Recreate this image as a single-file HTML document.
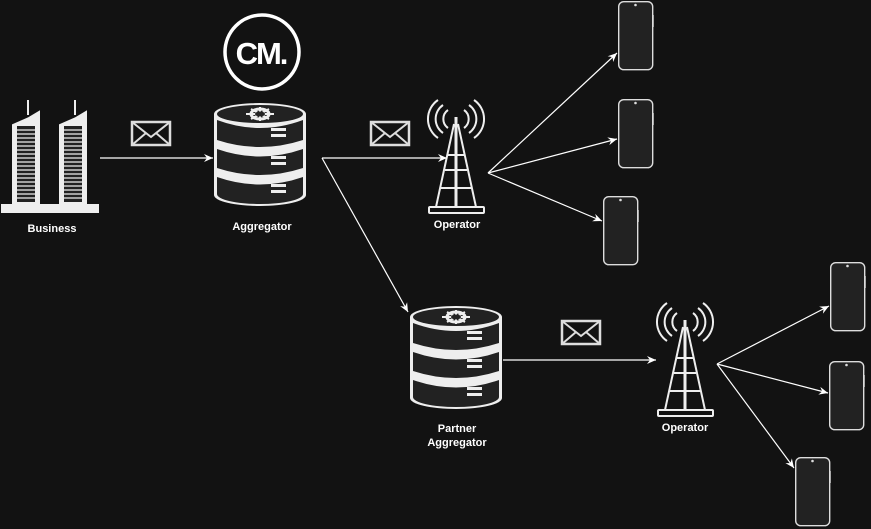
<!DOCTYPE html>
<html><head><meta charset="utf-8"><style>
html,body{margin:0;padding:0;background:#121212;}
svg{display:block}
text{font-family:"Liberation Sans",sans-serif;font-size:11px;fill:#fff;text-anchor:middle;font-weight:bold}
</style></head><body>
<svg width="871" height="529" viewBox="0 0 871 529" xmlns="http://www.w3.org/2000/svg">
<defs>
<marker id="ah" markerWidth="10" markerHeight="10" refX="9" refY="5" orient="auto" markerUnits="userSpaceOnUse">
<path d="M0,1 L9,5 L0,9 L3,5 Z" fill="#fff"/>
</marker>
<g id="db">
<path d="M1,12 A46,11 0 0 1 93,12 L93,93 A46,11 0 0 1 1,93 Z" fill="#eee"/>
<ellipse cx="47" cy="12" rx="43" ry="9" fill="#222"/>
<path d="M4,18 Q47,34 90,18 L90,38 Q47,52 4,38 Z" fill="#222"/>
<path d="M4,47 Q47,62 90,47 L90,66 Q47,80 4,66 Z" fill="#222"/>
<path d="M4,75 Q47,90 90,75 L90,92 A43,10 0 0 1 4,92 Z" fill="#222"/>
<g fill="#eee"><rect x="58" y="26" width="15" height="3"/><rect x="58" y="32" width="15" height="3"/>
<rect x="58" y="54" width="15" height="3"/><rect x="58" y="60" width="15" height="3"/>
<rect x="58" y="82" width="15" height="3"/><rect x="58" y="88" width="15" height="3"/></g>
<ellipse cx="47" cy="12" rx="9" ry="5" fill="none" stroke="#eee" stroke-width="3"/>
<g stroke="#eee" stroke-width="2"><line x1="33" y1="12" x2="61" y2="12"/><line x1="47" y1="5" x2="47" y2="19"/><line x1="38" y1="7" x2="56" y2="17"/><line x1="56" y1="7" x2="38" y2="17"/></g>
<ellipse cx="47" cy="12" rx="5" ry="2.5" fill="#222"/>
</g>
<g id="tower" fill="none" stroke="#eee" stroke-width="2">
<line x1="28" y1="17" x2="28" y2="107" stroke-width="3"/>
<line x1="26" y1="24" x2="8" y2="107"/><line x1="30" y1="24" x2="48" y2="107"/>
<line x1="20" y1="55" x2="36" y2="55"/><line x1="17" y1="70" x2="39" y2="70"/><line x1="13" y1="88" x2="43" y2="88"/>
<rect x="1" y="107" width="55" height="6" rx="1"/>
<path d="M20,10 A11,11 0 0 0 20,28"/><path d="M15,5 A17,17 0 0 0 15,33"/><path d="M10,0 A23,23 0 0 0 10,38"/>
<path d="M36,10 A11,11 0 0 1 36,28"/><path d="M41,5 A17,17 0 0 1 41,33"/><path d="M46,0 A23,23 0 0 1 46,38"/>
</g>
<g id="phone"><rect x="0.7" y="0.7" width="34" height="68" rx="5" fill="#222" stroke="#ddd" stroke-width="1.4"/><circle cx="17.5" cy="4" r="1.3" fill="#ddd"/><line x1="35.5" y1="14" x2="35.5" y2="26" stroke="#aaa"/></g>
<g id="env" fill="none" stroke="#ddd" stroke-width="2.5"><rect x="1" y="1" width="38" height="23"/><path d="M1,1 L20,16 L39,1 M1,24 L15,12 M39,24 L25,12" stroke-width="2"/></g>
<g id="bld" fill="none" stroke="#eee" stroke-width="2">
<path d="M2,25 L2,105 L28,105 L28,12 L18,18 L2,25 Z" fill="#eee"/>
<rect x="6" y="26" width="18" height="76" fill="#222" stroke="none"/>
<line x1="17" y1="0" x2="17" y2="15"/>
</g>
</defs>
<use href="#bld" x="11" y="100"/>
<use href="#bld" x="58" y="100"/>
<path d="M17,130H35M17,134H35M17,138H35M17,142H35M17,146H35M17,150H35M17,154H35M17,158H35M17,162H35M17,166H35M17,170H35M17,174H35M17,178H35M17,182H35M17,186H35M17,190H35M17,194H35M17,198H35" stroke="#eee" stroke-width="1.2"/>
<path d="M64,130H82M64,134H82M64,138H82M64,142H82M64,146H82M64,150H82M64,154H82M64,158H82M64,162H82M64,166H82M64,170H82M64,174H82M64,178H82M64,182H82M64,186H82M64,190H82M64,194H82M64,198H82" stroke="#eee" stroke-width="1.2"/>
<rect x="1" y="204" width="98" height="9" fill="#eee"/>
<text x="52" y="232">Business</text>
<circle cx="262" cy="52" r="37" fill="none" stroke="#fff" stroke-width="3.5"/>
<text x="261" y="64" style="font-size:31px;letter-spacing:-2px">CM.</text>
<use href="#db" x="213" y="102"/>
<text x="262" y="230">Aggregator</text>
<use href="#db" x="409" y="305"/>
<text x="457" y="432">Partner</text>
<text x="457" y="446">Aggregator</text>
<use href="#tower" x="428" y="100"/>
<text x="457" y="228">Operator</text>
<use href="#tower" x="657" y="303"/>
<text x="685" y="431">Operator</text>
<use href="#env" x="131" y="121"/>
<use href="#env" x="370" y="121"/>
<use href="#env" x="561" y="320"/>
<use href="#phone" x="618" y="1"/>
<use href="#phone" x="618" y="99"/>
<use href="#phone" x="603" y="196"/>
<use href="#phone" x="830" y="262"/>
<use href="#phone" x="829" y="361"/>
<use href="#phone" x="795" y="457"/>
<g stroke="#fff" stroke-width="1.2" fill="none" marker-end="url(#ah)">
<line x1="100" y1="158" x2="213" y2="158"/>
<line x1="322" y1="158" x2="447" y2="158"/>
<line x1="322" y1="158" x2="408" y2="312"/>
<line x1="488" y1="173" x2="617" y2="53"/>
<line x1="488" y1="173" x2="617" y2="139"/>
<line x1="488" y1="173" x2="602" y2="221"/>
<line x1="503" y1="360" x2="656" y2="360"/>
<line x1="717" y1="364" x2="829" y2="306"/>
<line x1="717" y1="364" x2="828" y2="393"/>
<line x1="717" y1="364" x2="794" y2="468"/>
</g>
</svg>
</body></html>
